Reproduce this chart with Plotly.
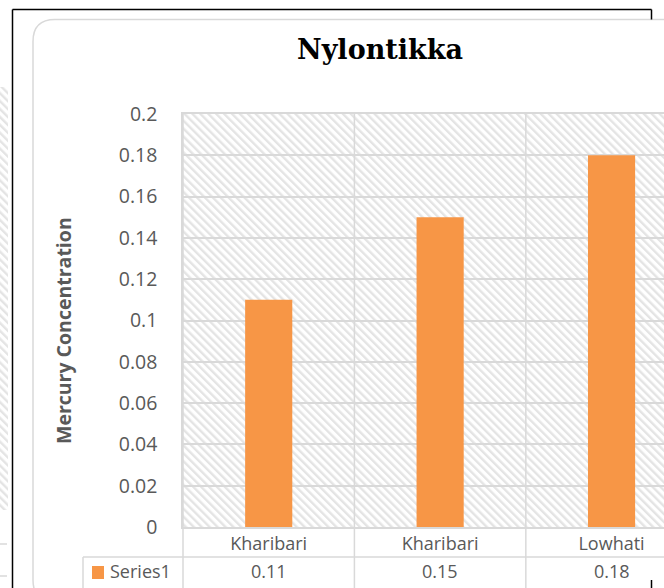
import base64
import plotly.graph_objects as go

# data
sites = ["Kharibari", "Kharibari", "Lowhati"]
mercury = [0.11, 0.15, 0.18]
y_ticks = [0, 0.02, 0.04, 0.06, 0.08, 0.1, 0.12, 0.14, 0.16, 0.18, 0.2]
y_tick_labels = ["0", "0.02", "0.04", "0.06", "0.08", "0.1", "0.12", "0.14", "0.16", "0.18", "0.2"]
series_name = "Series1"

W, H = 664, 588
PL, PT, PR, PB = 183, 114, 664, 527   # plot area in pixels
X_RANGE = [-0.5, 2.306]

GRID = "#d9d9d9"
TEXT = "#595959"
ORANGE = "#F79646"
SANS = "'Open Sans', Lato, sans-serif"


def px(x):
    return (x - PL) / (PR - PL)


def py(y):
    return (PB - y) / (PB - PT)


def cat_x(c):
    return (c - X_RANGE[0]) / (X_RANGE[1] - X_RANGE[0])


def hatch_uri(w, h):
    svg = (
        f'<svg xmlns="http://www.w3.org/2000/svg" width="{w}" height="{h}">'
        '<defs><pattern id="p" width="5.6" height="5.6" patternUnits="userSpaceOnUse" '
        'patternTransform="rotate(-45)"><rect width="2.4" height="5.6" fill="#e4e4e4"/></pattern></defs>'
        f'<rect width="{w}" height="{h}" fill="#ffffff"/>'
        f'<rect width="{w}" height="{h}" fill="url(#p)"/></svg>'
    )
    return "data:image/svg+xml;base64," + base64.b64encode(svg.encode()).decode()


fig = go.Figure()
fig.add_trace(go.Bar(
    x=list(range(len(sites))), y=mercury, width=0.275,
    marker=dict(color=ORANGE, line=dict(width=0)),
    name=series_name, hoverinfo="y",
))

shapes = []
# outer black frame (partly hidden behind the chart box)
blk = dict(color="black", width=1.5)
shapes.append(dict(type="line", xref="paper", yref="paper", x0=px(12.5), x1=px(651.5), y0=py(9.5), y1=py(9.5), line=blk))
shapes.append(dict(type="line", xref="paper", yref="paper", x0=px(12.5), x1=px(12.5), y0=py(9.5), y1=py(600), line=blk))
shapes.append(dict(type="line", xref="paper", yref="paper", x0=px(651.5), x1=px(651.5), y0=py(9.5), y1=py(19.5), line=blk))
shapes.append(dict(type="line", xref="paper", yref="paper", x0=px(651.5), x1=px(651.5), y0=py(580), y1=py(600), line=blk))

# rounded chart box
l, t, r, b, rad = 33, 19.5, 720, 602, 22
path = (
    f"M {px(l + rad)},{py(t)} L {px(r)},{py(t)} L {px(r)},{py(b)} L {px(l + rad)},{py(b)} "
    f"Q {px(l)},{py(b)} {px(l)},{py(b - rad)} L {px(l)},{py(t + rad)} "
    f"Q {px(l)},{py(t)} {px(l + rad)},{py(t)} Z"
)
shapes.append(dict(type="path", xref="paper", yref="paper", path=path,
                   line=dict(color=GRID, width=1.5), layer="below"))

# bits of the neighbouring chart on the far left
for yy in [544, 576]:
    shapes.append(dict(type="line", xref="paper", yref="paper", x0=px(0), x1=px(7), y0=py(yy), y1=py(yy),
                       line=dict(color=GRID, width=1.5)))

# column separators running through the data table
for c in [-0.5, 0.5, 1.5]:
    shapes.append(dict(type="line", xref="paper", yref="paper", x0=cat_x(c), x1=cat_x(c), y0=1, y1=py(600),
                       line=dict(color=GRID, width=1.5), layer="below"))
# data table lines
shapes.append(dict(type="line", xref="paper", yref="paper", x0=px(83), x1=px(700), y0=py(557), y1=py(557),
                   line=dict(color=GRID, width=1.5), layer="below"))
shapes.append(dict(type="line", xref="paper", yref="paper", x0=px(83), x1=px(83), y0=py(557), y1=py(600),
                   line=dict(color=GRID, width=1.5), layer="below"))
# legend key
shapes.append(dict(type="rect", xref="paper", yref="paper", x0=px(92), x1=px(104), y0=py(579), y1=py(566),
                   fillcolor=ORANGE, line=dict(width=0)))

annotations = [
    dict(text="<b>Nylontikka</b>", xref="paper", yref="paper", x=px(380), y=py(50), showarrow=False,
         xanchor="center", yanchor="middle",
         font=dict(family="'DejaVu Serif', serif", size=27, color="black")),
    dict(text="<b>Mercury Concentration</b>", xref="paper", yref="paper", x=px(63), y=py(331), textangle=-90,
         xanchor="center", yanchor="middle", showarrow=False, font=dict(family=SANS, size=19.5, color=TEXT)),
    dict(text=series_name, xref="paper", yref="paper", x=px(108), y=py(571), xanchor="left", yanchor="middle",
         showarrow=False, font=dict(family=SANS, size=18, color=TEXT)),
]
for i, v in enumerate(mercury):
    annotations.append(dict(text=f"{v:g}", xref="x", yref="paper", x=i, y=py(571), showarrow=False,
                            xanchor="center", yanchor="middle", font=dict(family=SANS, size=18, color=TEXT)))

images = [
    dict(source=hatch_uri(PR - PL, PB - PT), xref="paper", yref="paper", x=0, y=1, sizex=1, sizey=1,
         xanchor="left", yanchor="top", sizing="stretch", layer="below"),
    dict(source=hatch_uri(8, 423), xref="paper", yref="paper", x=px(0), y=py(87), sizex=px(8) - px(0),
         sizey=py(87) - py(510), xanchor="left", yanchor="top", sizing="stretch", layer="below"),
]

fig.update_layout(
    width=W, height=H,
    margin=dict(l=PL, r=W - PR, t=PT, b=H - PB),
    paper_bgcolor="white",
    plot_bgcolor="rgba(0,0,0,0)",
    showlegend=False,
    shapes=shapes,
    annotations=annotations,
    images=images,
    xaxis=dict(range=X_RANGE, tickvals=list(range(len(sites))), ticktext=sites, showgrid=False,
               zeroline=False, showline=True, mirror=True, linecolor=GRID, linewidth=1.5, ticks="",
               tickfont=dict(family=SANS, size=18, color=TEXT), fixedrange=True),
    yaxis=dict(range=[0, 0.2], tickvals=y_ticks, ticktext=y_tick_labels, showgrid=True, gridcolor=GRID,
               gridwidth=1.5, zeroline=False, showline=True, linecolor=GRID, linewidth=1.5,
               ticks="", ticklabelstandoff=20,
               tickfont=dict(family=SANS, size=19.5, color=TEXT), fixedrange=True),
)

# the page body has an 8px default margin; drop it so the figure sits at the window's corner
fig.write_html("out.html", config={"displayModeBar": False},
               post_script="document.body.style.margin='0';")
